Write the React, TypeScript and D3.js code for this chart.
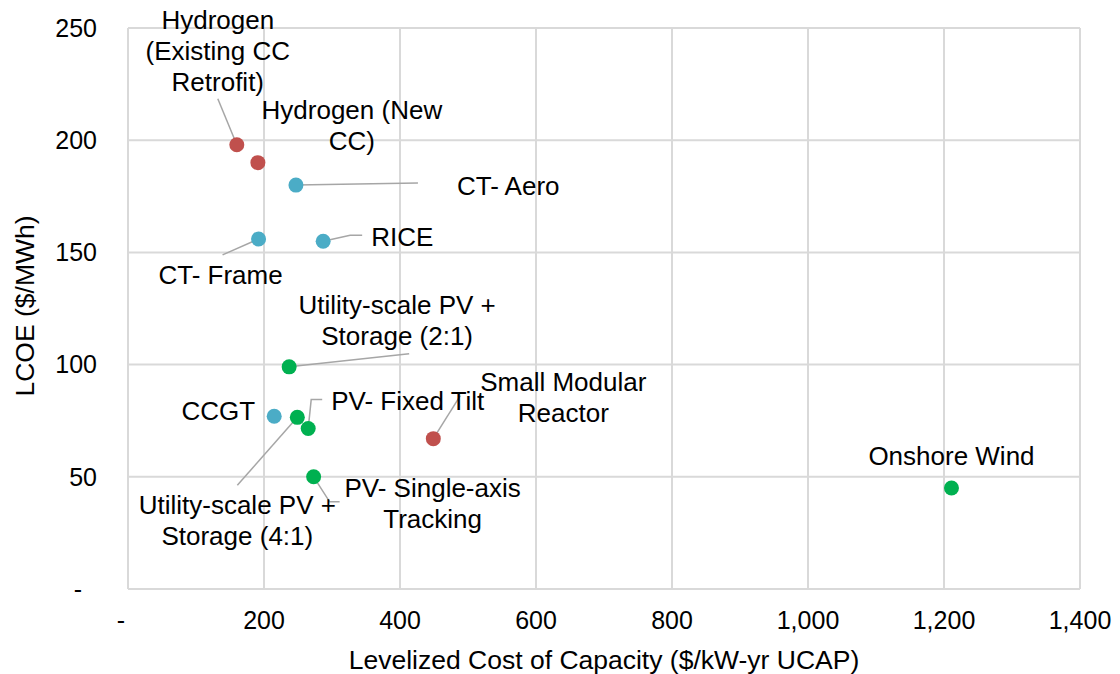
import React from "react";
import * as d3 from "d3";

// technologies, x = levelized cost of capacity, y = LCOE
const techNames = [
  "Hydrogen (Existing CC Retrofit)",
  "Hydrogen (New CC)",
  "CT- Aero",
  "CT- Frame",
  "RICE",
  "Utility-scale PV + Storage (2:1)",
  "CCGT",
  "Utility-scale PV + Storage (4:1)",
  "PV- Fixed Tilt",
  "PV- Single-axis Tracking",
  "Small Modular Reactor",
  "Onshore Wind",
];
const capacityCost = [160, 191, 247, 192, 287, 237, 215, 249, 265, 273, 449, 1211];
const lcoeValues = [198, 190, 180, 156, 155, 99, 77, 76.5, 71.5, 50, 67, 45];
const techGroup = ["h2", "h2", "gas", "gas", "gas", "solar", "gas", "solar", "solar", "solar", "h2", "solar"];

const xTicks = [0, 200, 400, 600, 800, 1000, 1200, 1400];
const yTicks = [0, 50, 100, 150, 200, 250];

const groupColor: Record<string, string> = {
  h2: "#C0504D",
  gas: "#4BACC6",
  solar: "#00B050",
};

// label placement, in pixels relative to each point
const labelLayout = [
  { lines: ["Hydrogen", "(Existing CC", "Retrofit)"], dx: -19, dy: -125, anchor: "middle", leader: [[-19, -46]] },
  { lines: ["Hydrogen (New", "CC)"], dx: 94, dy: -53, anchor: "middle", leader: [] },
  { lines: ["CT- Aero"], dx: 161, dy: 1, anchor: "start", leader: [[122, -2]] },
  { lines: ["CT- Frame"], dx: -38, dy: 36, anchor: "middle", leader: [[-36, 16]] },
  { lines: ["RICE"], dx: 48, dy: -4, anchor: "start", leader: [[27, -6], [39, -6]] },
  { lines: ["Utility-scale PV +", "Storage (2:1)"], dx: 108, dy: -62, anchor: "middle", leader: [[120, -13]] },
  { lines: ["CCGT"], dx: -19, dy: -5, anchor: "end", leader: [] },
  { lines: ["Utility-scale PV +", "Storage (4:1)"], dx: -60, dy: 88, anchor: "middle", leader: [[-60, 68]] },
  { lines: ["PV- Fixed Tilt"], dx: 23, dy: -28, anchor: "start", leader: [[3, -29], [14, -29]] },
  { lines: ["PV- Single-axis", "Tracking"], dx: 119, dy: 11, anchor: "middle", leader: [[16, 25], [26, 25]] },
  { lines: ["Small Modular", "Reactor"], dx: 130, dy: -57, anchor: "middle", leader: [[27, -43]] },
  { lines: ["Onshore Wind"], dx: 0, dy: -32, anchor: "middle", leader: [] },
];

const W = 1120;
const H = 674;
const plot = { left: 128, right: 1080, top: 28, bottom: 589 };
const font = "'Liberation Sans', Arial, sans-serif";
const lineH = 31;

export default function App() {
  const x = d3.scaleLinear().domain([0, 1400]).range([plot.left, plot.right]);
  const y = d3.scaleLinear().domain([0, 250]).range([plot.bottom, plot.top]);
  const fmt = (v: number) => (v === 0 ? "-" : d3.format(",")(v));

  const pts = techNames.map((name, i) => ({
    name,
    px: x(capacityCost[i]),
    py: y(lcoeValues[i]),
    color: groupColor[techGroup[i]],
    lab: labelLayout[i],
  }));

  return (
    <svg width={W} height={H} style={{ position: "absolute", left: 0, top: 0, background: "#fff" }} fontFamily={font}>
      {/* grid */}
      {xTicks.map((t) => (
        <line key={"gx" + t} x1={x(t)} x2={x(t)} y1={plot.top} y2={plot.bottom} stroke="#D9D9D9" strokeWidth={2} />
      ))}
      {yTicks.map((t) => (
        <line key={"gy" + t} x1={plot.left} x2={plot.right} y1={y(t)} y2={y(t)} stroke="#D9D9D9" strokeWidth={2} />
      ))}

      {/* tick labels */}
      {xTicks.map((t) => (
        <text key={"tx" + t} x={x(t) + (t === 0 ? -7 : 0)} y={620} dy="0.35em" textAnchor="middle" fontSize={25} fill="#000">
          {fmt(t)}
        </text>
      ))}
      {yTicks.map((t) => (
        <text key={"ty" + t} x={t === 0 ? 82 : 97} y={y(t)} dy="0.35em" textAnchor="end" fontSize={25} fill="#000">
          {fmt(t)}
        </text>
      ))}

      {/* axis titles */}
      <text x={604} y={660} dy="0.35em" textAnchor="middle" fontSize={26.5} fill="#000">
        Levelized Cost of Capacity ($/kW-yr UCAP)
      </text>
      <text transform="translate(25, 306) rotate(-90)" dy="0.35em" textAnchor="middle" fontSize={26.5} fill="#000">
        LCOE ($/MWh)
      </text>

      {/* leader lines */}
      {pts.map((p) =>
        p.lab.leader.length ? (
          <polyline
            key={"ld" + p.name}
            points={[[0, 0], ...p.lab.leader].map(([a, b]) => `${p.px + a},${p.py + b}`).join(" ")}
            fill="none"
            stroke="#A6A6A6"
            strokeWidth={1.5}
          />
        ) : null
      )}

      {/* markers */}
      {pts.map((p) => (
        <circle key={"pt" + p.name} cx={p.px} cy={p.py} r={7.5} fill={p.color} />
      ))}

      {/* data labels */}
      {pts.map((p) => (
        <text key={"lb" + p.name} fontSize={26} fill="#000" textAnchor={p.lab.anchor}>
          {p.lab.lines.map((ln, j) => (
            <tspan key={j} x={p.px + p.lab.dx} y={p.py + p.lab.dy + j * lineH} dy="0.35em">
              {ln}
            </tspan>
          ))}
        </text>
      ))}
    </svg>
  );
}
